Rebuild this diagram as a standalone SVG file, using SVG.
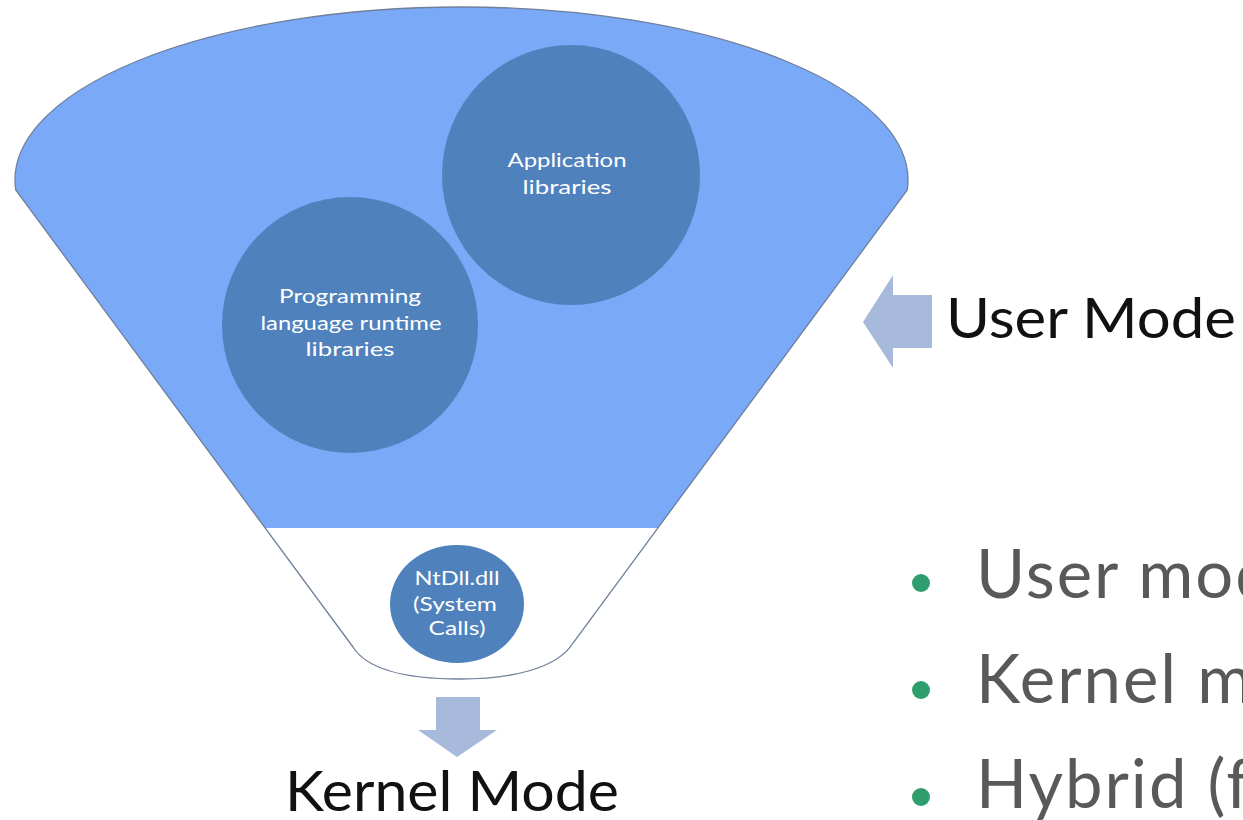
<svg xmlns="http://www.w3.org/2000/svg" width="1243" height="820" viewBox="0 0 1243 820">
  <style>
    .circle { fill: #4f81bd; }
    .ctext { font-family: Lato, "Liberation Sans", sans-serif; font-size: 19px; fill: #ffffff; text-anchor: middle; }
    .mode { font-family: Lato, "Liberation Sans", sans-serif; font-size: 56px; fill: #111111; }
    .bullet-text { font-family: Lato, "Liberation Sans", sans-serif; font-size: 67px; fill: #595959; letter-spacing: 2px; }
    .dot { fill: #2f9e6e; }
    .block-arrow { fill: #a8badb; }
  </style>

  <rect width="1243" height="820" fill="#ffffff"/>

  <!-- funnel: blue user-mode bowl over a white neck -->
  <g id="funnel">
    <path d="M 353,647 L 15.75,190 A 446.5 173 0 1 1 907.25,190 L 573,643 C 557,669 510,679 460,679 C 410,679 368,671 353,647 Z" fill="#ffffff"/>
    <path d="M 15.75,190 A 446.5 173 0 1 1 907.25,190 L 658,528 L 265,528 Z" fill="#79a9f7"/>
    <path d="M 353,647 L 15.75,190 A 446.5 173 0 1 1 907.25,190 L 573,643 C 557,669 510,679 460,679 C 410,679 368,671 353,647 Z" fill="none" stroke="#6f7f9c" stroke-width="1.3"/>
  </g>

  <g id="node-application-libraries">
    <ellipse class="circle" cx="571" cy="175" rx="129" ry="130"/>
    <text class="ctext" x="567" y="167" textLength="119" lengthAdjust="spacingAndGlyphs">Application</text>
    <text class="ctext" x="567" y="194" textLength="89" lengthAdjust="spacingAndGlyphs">libraries</text>
  </g>

  <g id="node-runtime-libraries">
    <ellipse class="circle" cx="350" cy="325" rx="128" ry="128"/>
    <text class="ctext" x="350" y="303" textLength="142" lengthAdjust="spacingAndGlyphs">Programming</text>
    <text class="ctext" x="351" y="330" textLength="181" lengthAdjust="spacingAndGlyphs">language runtime</text>
    <text class="ctext" x="350" y="356" textLength="89" lengthAdjust="spacingAndGlyphs">libraries</text>
  </g>

  <g id="node-ntdll">
    <ellipse class="circle" cx="457" cy="604" rx="67" ry="59"/>
    <text class="ctext" x="457" y="585" textLength="85" lengthAdjust="spacingAndGlyphs">NtDll.dll</text>
    <text class="ctext" x="455" y="611" textLength="84" lengthAdjust="spacingAndGlyphs">(System</text>
    <text class="ctext" x="457" y="635" textLength="57" lengthAdjust="spacingAndGlyphs">Calls)</text>
  </g>

  <!-- block arrows pointing at the mode labels -->
  <g id="connectors">
    <path class="block-arrow" d="M 863,322 L 893,275 L 893,295 L 932,295 L 932,348 L 893,348 L 893,368 Z"/>
    <path class="block-arrow" d="M 436,697 L 480,697 L 480,730 L 497,730 L 457,757 L 418,730 L 436,730 Z"/>
  </g>

  <g id="label-user-mode">
    <text class="mode" x="946" y="338" textLength="290" lengthAdjust="spacingAndGlyphs">User Mode</text>
  </g>

  <g id="label-kernel-mode">
    <text class="mode" x="285" y="811" textLength="334" lengthAdjust="spacingAndGlyphs">Kernel Mode</text>
  </g>

  <g id="bullets">
    <circle class="dot" cx="921" cy="583" r="9"/>
    <circle class="dot" cx="921" cy="690" r="9"/>
    <circle class="dot" cx="921" cy="797" r="9"/>
    <text class="bullet-text" x="976" y="598">User mode</text>
    <text class="bullet-text" x="976" y="703">Kernel mode</text>
    <text class="bullet-text" x="976" y="808">Hybrid (f</text>
  </g>
</svg>
